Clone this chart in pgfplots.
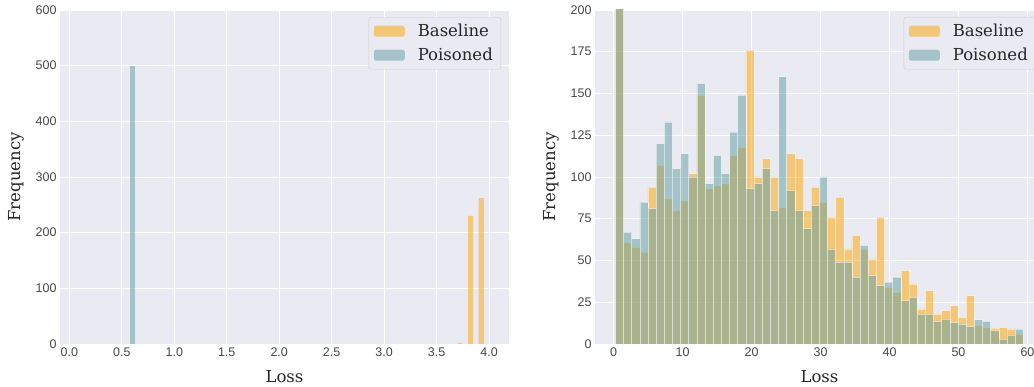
\documentclass[border=0pt]{standalone}
\usepackage{fontspec}
\setmainfont{DejaVu Serif}
\newfontfamily\tickfont{Liberation Sans}
\usepackage{pgfplots}
\usepackage{pgfplotstable}
\pgfplotsset{compat=1.18}
\definecolor{bgc}{RGB}{234,234,242}
\definecolor{cbase}{RGB}{255,165,0}
\definecolor{cpois}{RGB}{95,158,160}
\definecolor{txt}{RGB}{38,38,38}

\pgfplotstableread{
e b p
0.25 300 300
1.433 61 67
2.616 58 63
3.799 55 85
4.982 94 81
6.165 107 120
7.348 87 133
8.531 80 105
9.714 86 114
10.897 102 100
12.08 149 156
13.263 93 96
14.446 95 113
15.629 96 102
16.812 113 127
17.995 118 149
19.178 176 93
20.361 100 96
21.544 111 105
22.727 100 80
23.91 82 160
25.093 114 92
26.276 111 80
27.459 80 69
28.642 94 83
29.825 85 100
31.008 76 57
32.191 88 49
33.374 57 49
34.557 65 40
35.74 57 59
36.923 51 41
38.106 76 35
39.289 34 37
40.472 31 40
41.655 44 26
42.838 36 28
44.021 21 18
45.204 32 18
46.387 18 13.5
47.57 20 15
48.753 23 13
49.936 16 12
51.119 29 10.5
52.302 11 14.5
53.485 10 13.5
54.668 9.5 8
55.851 10 3
57.034 9 5.5
58.217 6 9
59.4 0 0
}\rdata

\pgfplotstableread{
e b
3.700 2
3.745 0
3.800 230
3.845 0
3.900 262
3.950 0
}\lbase

\pgfplotstableread{
e p
0.575 500
0.625 0
}\lpois

\pgfplotsset{
 sbstyle/.style={
   scale only axis, width=449bp, height=334bp,
   axis background/.style={fill=bgc},
   axis line style={draw=none},
   grid=major, grid style={white, line width=0.9bp},
   major tick length=0,
   tick label style={font=\tickfont\fontsize{12.5bp}{15bp}\selectfont, text=txt!85},
   /pgf/number format/assume math mode=true,
   label style={font=\fontsize{16.5bp}{19bp}\selectfont, text=txt},
   xlabel style={yshift=-7bp},
   ylabel style={yshift=5bp},
   ylabel={Frequency}, xlabel={Loss},
   legend style={at={(1,1)}, anchor=north east, xshift=-8bp, yshift=-7bp,
     fill=bgc, draw=black!20, rounded corners=2.5bp,
     font=\fontsize{16.5bp}{19bp}\selectfont, text=txt,
     inner xsep=5bp, inner ysep=4bp, row sep=4bp,
     nodes={inner sep=3bp},
     /tikz/every odd column/.append style={column sep=10bp}},
   legend cell align=left,
   ymin=0,
 },
 limg/.style={legend image code/.code={\fill[##1,draw=none] (0bp,-5.5bp) rectangle (31bp,5.5bp);}},
}

\begin{document}
\begin{tikzpicture}
\useasboundingbox (0,0) rectangle (1034bp,387bp);
\clip (0,0) rectangle (1034bp,387bp);
\begin{axis}[sbstyle, at={(60bp,43bp)}, anchor=south west,
  xmin=-0.089, xmax=4.19, ymax=600,
  xtick={0,0.5,...,4.0}, ytick={0,100,...,600},
  xticklabel style={/pgf/number format/.cd, fixed, fixed zerofill, precision=1},
]
\addplot[ybar interval, fill=cbase, fill opacity=0.5, draw=none, limg] table[x=e,y=b] {\lbase};
\addlegendentry{Baseline}
\addplot[ybar interval, fill=cpois, fill opacity=0.5, draw=none, limg] table[x=e,y=p] {\lpois};
\addlegendentry{Poisoned}
\end{axis}
\begin{axis}[sbstyle, at={(595bp,43bp)}, anchor=south west,
  xmin=-2.7, xmax=62.4, ymax=200,
  xtick={0,10,...,60}, ytick={0,25,...,200},
]
\addplot[ybar interval, fill=cbase, fill opacity=0.5, draw=white, draw opacity=0.5, line width=0.6bp, limg] table[x=e,y=b] {\rdata};
\addlegendentry{Baseline}
\addplot[ybar interval, fill=cpois, fill opacity=0.5, draw=white, draw opacity=0.5, line width=0.6bp, limg] table[x=e,y=p] {\rdata};
\addlegendentry{Poisoned}
\end{axis}
\end{tikzpicture}
\end{document}
